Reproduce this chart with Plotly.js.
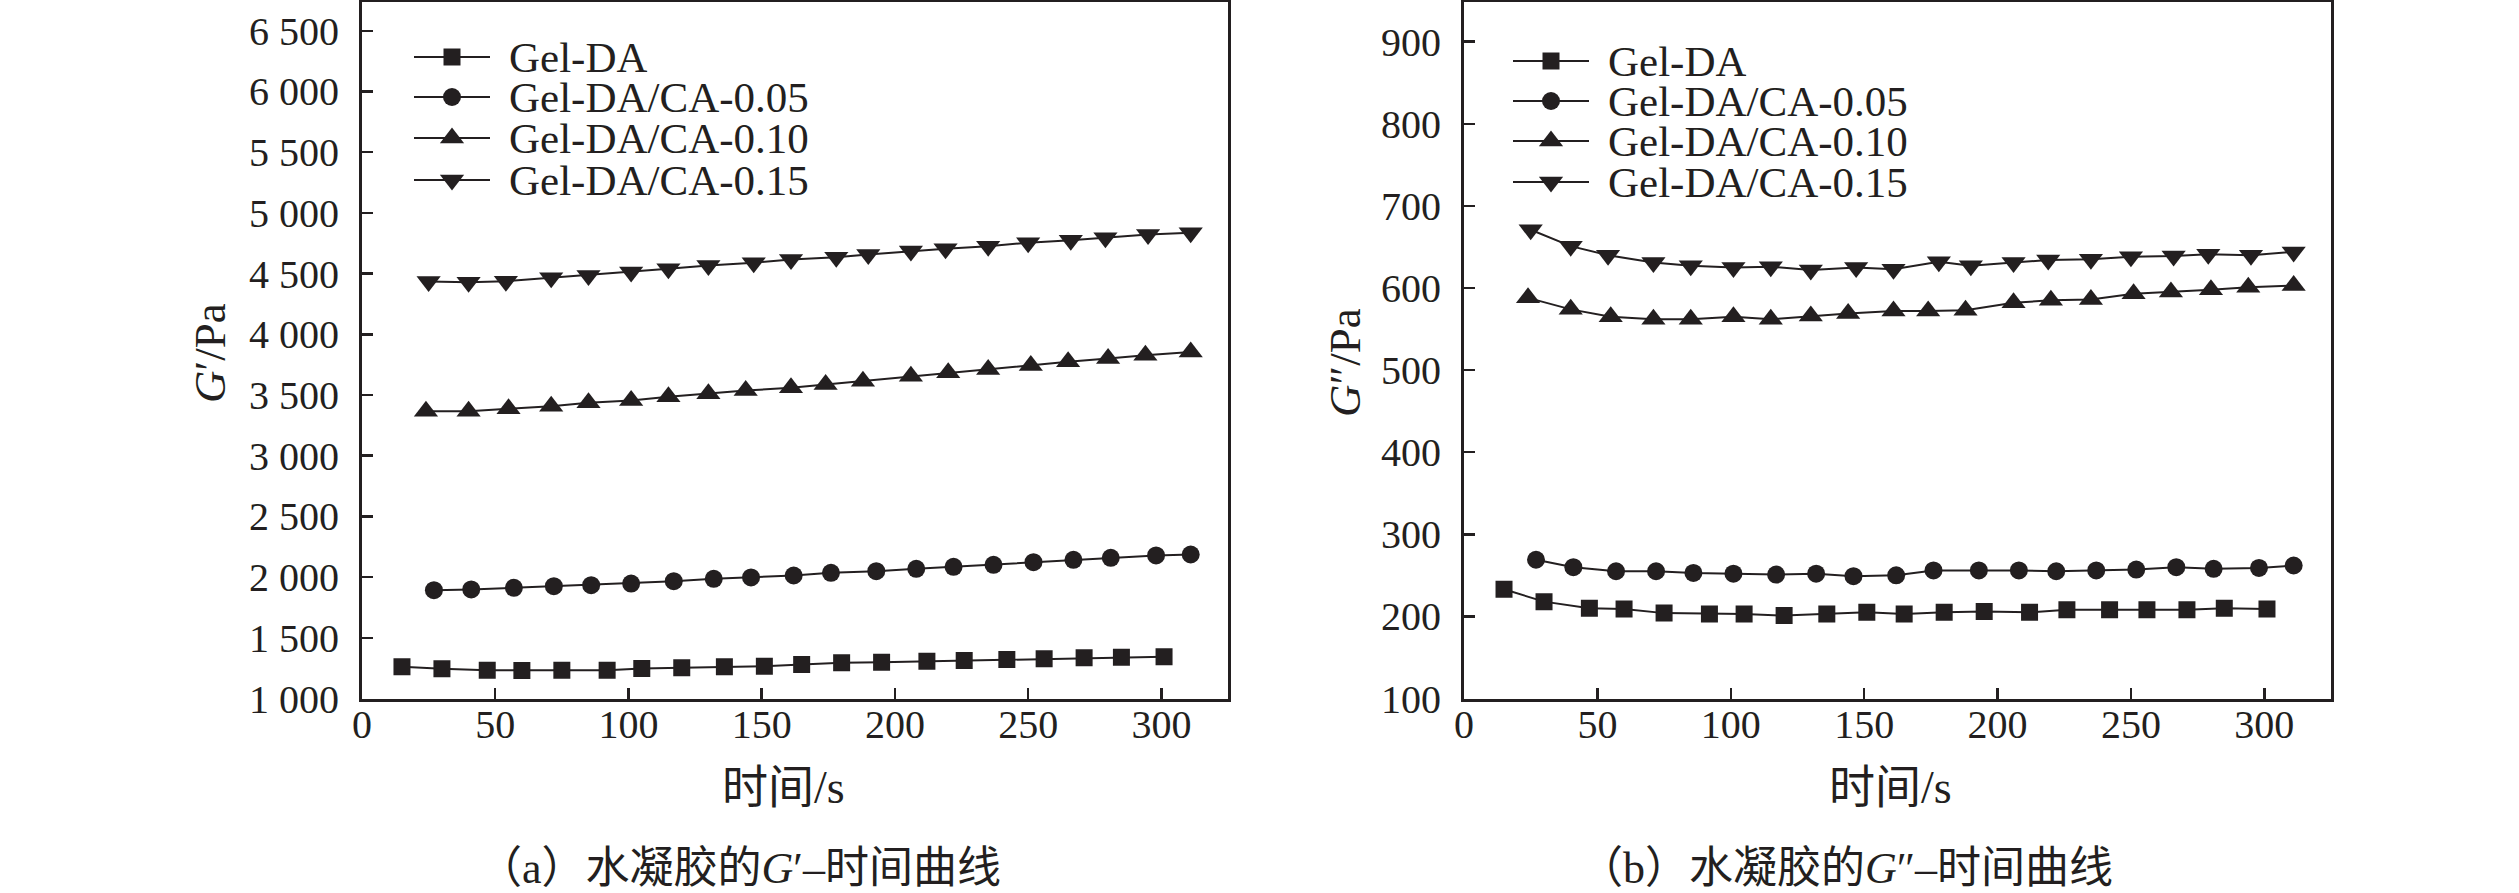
<!DOCTYPE html>
<html>
<head>
<meta charset="utf-8">
<script src="https://cdn.plot.ly/plotly-3.0.1.min.js"></script>
<style>
  html, body { margin: 0; padding: 0; background: #fff; }
  #chart { width: 2519px; height: 893px; }
</style>
</head>
<body>
<div id="chart"></div>
<script>
// Time points (s)
const timeDA  = [15, 30, 47, 60, 75, 92, 105, 120, 136, 151, 165, 180, 195, 212, 226, 242, 256, 271, 285, 301];
const time005 = [27, 41, 57, 72, 86, 101, 117, 132, 146, 162, 176, 193, 208, 222, 237, 252, 267, 281, 298, 311];
const time010 = [24, 40, 55, 71, 85, 101, 115, 130, 144, 161, 174, 188, 206, 220, 235, 251, 265, 280, 294, 311];
const time015 = [25, 40, 54, 71, 85, 101, 115, 130, 147, 161, 178, 190, 206, 219, 235, 250, 266, 279, 295, 311];

// G' (Pa)
const storageDA  = [1261, 1245, 1233, 1231, 1233, 1233, 1247, 1253, 1261, 1266, 1280, 1294, 1299, 1307, 1313, 1321, 1327, 1335, 1340, 1343];
const storage005 = [1892, 1898, 1912, 1925, 1933, 1947, 1966, 1986, 1997, 2013, 2035, 2049, 2068, 2085, 2101, 2123, 2142, 2159, 2178, 2186];
const storage010 = [3367, 3367, 3386, 3408, 3436, 3455, 3485, 3510, 3537, 3559, 3586, 3614, 3655, 3683, 3710, 3743, 3773, 3801, 3828, 3853];
const storage015 = [4435, 4429, 4437, 4465, 4484, 4512, 4539, 4567, 4589, 4616, 4635, 4657, 4685, 4704, 4726, 4754, 4775, 4795, 4822, 4836];

// G'' (Pa)
const lossDA  = [233, 218, 210, 209, 204, 203, 203, 201, 203, 205, 203, 205, 206, 205, 208, 208, 208, 208, 210, 209];
const loss005 = [269, 260, 255, 255, 253, 252, 251, 252, 249, 250, 256, 256, 256, 255, 256, 257, 260, 258, 259, 262];
const loss010 = [588, 574, 565, 562, 562, 565, 562, 566, 569, 572, 572, 573, 582, 585, 586, 593, 595, 598, 601, 603];
const loss015 = [671, 651, 640, 631, 627, 625, 626, 622, 625, 623, 632, 627, 631, 634, 635, 638, 639, 641, 640, 644];

const seriesNames = ['Gel-DA', 'Gel-DA/CA-0.05', 'Gel-DA/CA-0.10', 'Gel-DA/CA-0.15'];
const seriesTimes = [timeDA, time005, time010, time015];
const storageSeries = [storageDA, storage005, storage010, storage015];
const lossSeries = [lossDA, loss005, loss010, loss015];

const W = 2519, H = 893;
const INK = '#231f20';
const SERIF = 'Liberation Serif, Noto Sans CJK SC, serif';
const symbols = ['square', 'circle', 'triangle-up', 'triangle-down'];
const symbolSizes = [17, 18, 21, 21];

// pixel -> paper fraction
const fx = px => px / W;
const fy = py => 1 - py / H;

const panels = [
    {
        xa: 'x', ya: 'y', left: 362, right: 1228, yRange: [1000, 6741], dtick: 500,
        series: storageSeries,
        yTitle: '<i>G</i>′/Pa', yTitleX: 210, yTitleY: 353,
        xTitleX: 783,
        caption: '（a）水凝胶的<i>G</i>′–时间曲线', captionX: 739,
        legend: { line: [414, 490], marker: 452, text: 508, rows: [57, 97, 138, 180] }
    },
    {
        xa: 'x2', ya: 'y2', left: 1464, right: 2331, yRange: [100, 949], dtick: 100,
        series: lossSeries,
        yTitle: '<i>G</i>″/Pa', yTitleX: 1345, yTitleY: 363,
        xTitleX: 1890,
        caption: '（b）水凝胶的<i>G</i>″–时间曲线', captionX: 1846,
        legend: { line: [1513, 1589], marker: 1551, text: 1607, rows: [61, 101, 141, 182] }
    }
];

const PLOT_TOP = 1.5, PLOT_BOTTOM = 698.5;

function axisStyle() {
    return {
        ticks: 'inside', ticklen: 11, tickwidth: 2.5, tickcolor: INK,
        showline: true, linewidth: 3, linecolor: INK, mirror: true,
        showgrid: false, zeroline: false,
        tickfont: { family: SERIF, size: 40, color: INK }
    };
}

// Legend marker drawn as a shape, same geometry as the plotly symbols
function legendSymbol(symbol, cx, cy, size) {
    const r = size / 2;
    const base = { xref: 'paper', yref: 'paper', fillcolor: INK, line: { color: INK, width: 0 } };
    if (symbol === 'circle') {
        return Object.assign(base, { type: 'circle', x0: fx(cx - r), x1: fx(cx + r), y0: fy(cy + r), y1: fy(cy - r) });
    }
    let pts;
    const rt = r * 2 / Math.sqrt(3);
    if (symbol === 'square') pts = [[-r, -r], [r, -r], [r, r], [-r, r]];
    else if (symbol === 'triangle-up') pts = [[-rt, r / 2], [rt, r / 2], [0, -r]];
    else pts = [[-rt, -r / 2], [rt, -r / 2], [0, r]];
    const path = 'M' + pts.map(p => fx(cx + p[0]) + ',' + fy(cy + p[1])).join('L') + 'Z';
    return Object.assign(base, { type: 'path', path });
}

function textNote(text, x, y, size, extra) {
    return Object.assign({
        text, x: fx(x), y: fy(y), xref: 'paper', yref: 'paper',
        xanchor: 'center', yanchor: 'middle', showarrow: false,
        font: { family: SERIF, size, color: INK }
    }, extra || {});
}

const traces = [];
const shapes = [];
const annotations = [];
const layout = {
    width: W, height: H,
    margin: { l: 0, r: 0, t: 0, b: 0 },
    paper_bgcolor: '#fff', plot_bgcolor: '#fff',
    separators: '. ',
    showlegend: false
};

panels.forEach((p, pi) => {
    const xKey = pi === 0 ? 'xaxis' : 'xaxis2';
    const yKey = pi === 0 ? 'yaxis' : 'yaxis2';

    layout[xKey] = Object.assign(axisStyle(), {
        domain: [fx(p.left), fx(p.right)], range: [0, 325], tick0: 0, dtick: 50,
        anchor: p.ya, ticklabelstandoff: -12
    });
    layout[yKey] = Object.assign(axisStyle(), {
        domain: [fy(PLOT_BOTTOM), fy(PLOT_TOP)], range: p.yRange, tick0: 0, dtick: p.dtick,
        tickformat: ',d', anchor: p.xa, ticklabelstandoff: 12
    });

    p.series.forEach((vals, i) => {
        traces.push({
            x: seriesTimes[i], y: vals, xaxis: p.xa, yaxis: p.ya,
            type: 'scatter', mode: 'lines+markers', name: seriesNames[i],
            line: { color: INK, width: 2 },
            marker: { symbol: symbols[i], size: symbolSizes[i], color: INK },
            hoverinfo: 'skip'
        });

        // hand-made legend row (rows sit closer than plotly's legend allows)
        const rowY = p.legend.rows[i];
        shapes.push({
            type: 'line', xref: 'paper', yref: 'paper',
            x0: fx(p.legend.line[0]), x1: fx(p.legend.line[1]), y0: fy(rowY), y1: fy(rowY),
            line: { color: INK, width: 2 }
        });
        shapes.push(legendSymbol(symbols[i], p.legend.marker, rowY, symbolSizes[i]));
        annotations.push(textNote(seriesNames[i], p.legend.text, rowY, 43,
            { xanchor: 'left', height: 36, borderpad: 0 }));
    });

    annotations.push(textNote('时间/s', p.xTitleX, 787, 46));
    annotations.push(textNote(p.yTitle, p.yTitleX, p.yTitleY, 45, { textangle: -90 }));
    annotations.push(textNote(p.caption, p.captionX, 868, 44));
});

layout.shapes = shapes;
layout.annotations = annotations;

Plotly.newPlot('chart', traces, layout, { displayModeBar: false, staticPlot: true });
</script>
</body>
</html>
